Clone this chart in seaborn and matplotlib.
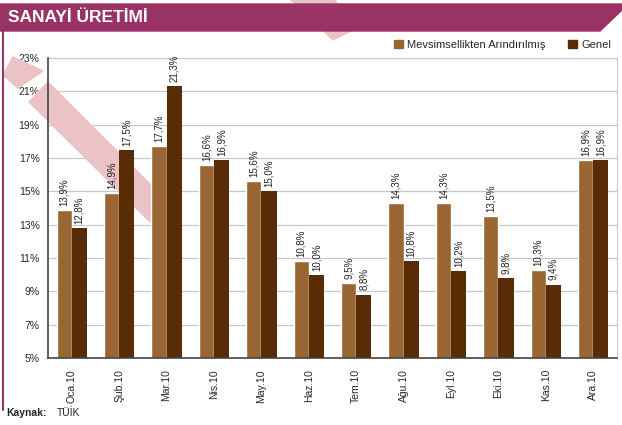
import numpy as np
import pandas as pd
import matplotlib
matplotlib.use("Agg")
import matplotlib.pyplot as plt
import seaborn as sns
from matplotlib.patches import Polygon

# aylar ve degerler (%)
months = ["Oca.10", "Şub.10", "Mar.10", "Nis.10", "May.10", "Haz.10",
          "Tem.10", "Ağu.10", "Eyl.10", "Eki.10", "Kas.10", "Ara.10"]
mevsimsel = [13.9, 14.9, 17.7, 16.6, 15.6, 10.8, 9.5, 14.3, 14.3, 13.5, 10.3, 16.9]
genel = [12.8, 17.5, 21.3, 16.9, 15.0, 10.0, 8.8, 10.8, 10.2, 9.8, 9.4, 16.9]
series_names = ["Mevsimsellikten Arındırılmış", "Genel"]
colors = ["#996633", "#5a2c06"]

sns.set_style("white")
plt.rcParams["font.family"] = ["Liberation Sans", "DejaVu Sans"]
plt.rcParams["hatch.color"] = "#3a1800"
plt.rcParams["hatch.linewidth"] = 0.6

df = pd.DataFrame({
    "Ay": months * 2,
    "Deger": mevsimsel + genel,
    "Seri": [series_names[0]] * 12 + [series_names[1]] * 12,
})

W, H = 622, 425
fig = plt.figure(figsize=(W / 100, H / 100), dpi=100)


def fx(x):
    return x / W


def fy(y):
    return 1 - y / H


def pts(lst):
    return [(fx(x), fy(y)) for x, y in lst]


wm = "#ebc3c5"

# ust kisimdaki pembe parca ve baslik bandi
fig.patches.append(Polygon(pts([(291, 0), (335, 0), (353, 30), (333, 40)]),
                           closed=True, transform=fig.transFigure, color=wm, zorder=0))
fig.patches.append(Polygon(pts([(13, 57), (43, 71), (18, 88), (3, 75)]),
                           closed=True, transform=fig.transFigure, color=wm, zorder=0))
fig.patches.append(Polygon(pts([(0, 4), (622, 4), (622, 10), (600, 31), (0, 31)]),
                           closed=True, transform=fig.transFigure, color="#993366", zorder=1))
fig.lines.append(plt.Line2D([fx(3), fx(3)], [fy(31), fy(410)], transform=fig.transFigure,
                            color="#993366", lw=1.5))
fig.text(fx(8), fy(18), "SANAYİ ÜRETİMİ", color="white", fontsize=12.5,
         fontweight="bold", va="center", ha="left")

ax = fig.add_axes([fx(48), fy(358), fx(617) - fx(48), fy(58) - fy(358)])
ax.patch.set_alpha(0)
sns.barplot(data=df, x="Ay", y="Deger", hue="Seri", palette=colors,
            width=0.64, gap=0, saturation=1, ax=ax, legend=False)

for bar in ax.containers[0]:
    bar.set_zorder(3)
for bar in ax.containers[1]:
    bar.set_hatch("|||")
    bar.set_edgecolor(colors[1])
    bar.set_linewidth(0)
    bar.set_zorder(3)

# ana pembe serit (cubuklarin arkasinda)
ax.add_patch(Polygon(pts([(48, 82), (170, 204), (150, 222), (29, 102)]),
                     closed=True, transform=fig.transFigure, color=wm, zorder=2,
                     clip_on=False))

for cont, vals in zip(ax.containers, [mevsimsel, genel]):
    ax.bar_label(cont, labels=[f"{v:.1f}%".replace(".", ",") for v in vals],
                 rotation=90, padding=3, fontsize=7, color="#222222")

ax.set_ylim(5, 23)
ax.set_yticks(np.arange(5, 24, 2))
ax.set_yticklabels([f"{t}%" for t in range(5, 24, 2)], fontsize=7.5)
ax.set_xlim(-0.5, 11.5)
ax.set_xticks(range(12))
ax.set_xticklabels(months, rotation=90, fontsize=7.5)
ax.set_xticks(np.arange(-0.5, 12, 1), minor=True)
ax.tick_params(axis="x", which="major", length=0, pad=8)
ax.tick_params(axis="x", which="minor", length=4, direction="out", color="#333333")
ax.tick_params(axis="y", length=4, direction="out", color="#333333", pad=2)
ax.set_xlabel("")
ax.set_ylabel("")
ax.yaxis.grid(True, color="#c8c8c8", lw=0.9, zorder=0)
ax.set_axisbelow(True)
for s in ["top", "right"]:
    ax.spines[s].set_color("#c8c8c8")
for s in ["left", "bottom"]:
    ax.spines[s].set_color("#444444")
    ax.spines[s].set_linewidth(1.2)
    ax.spines[s].set_zorder(4)

handles = [plt.Rectangle((0, 0), 1, 1, color=c) for c in colors]
fig.legend(handles, series_names, loc="center right", bbox_to_anchor=(fx(621), fy(45)),
           ncol=2, frameon=False, fontsize=8, handlelength=0.8, handleheight=0.8,
           handletextpad=0.4, columnspacing=2.0)

fig.text(fx(6), fy(413), "Kaynak:", fontsize=7.5, fontweight="bold", va="center")
fig.text(fx(57), fy(413), "TÜİK", fontsize=7.5, va="center")

fig.savefig("out.png", dpi=100)
